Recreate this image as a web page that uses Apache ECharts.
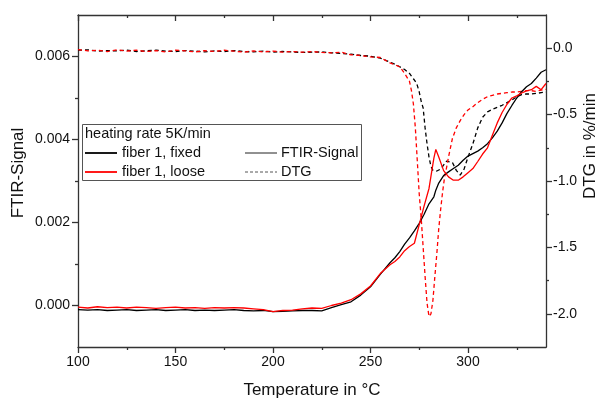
<!DOCTYPE html>
<html>
<head>
<meta charset="utf-8">
<script src="https://cdn.jsdelivr.net/npm/echarts@6/dist/echarts.min.js"></script>
<style>html,body{margin:0;padding:0;background:#fff}#c{width:599px;height:398px}</style>
</head>
<body>
<div id="c"></div>
<script>
// ---- data ----
const tempFTIR = [100,105,110,115,120,125,130,135,140,145,150,155,160,165,170,175,180,185,190,195,200,205,210,215,220,225,
  230,235,240,245,250,255,260,
  262.5,265,267.5,270,272.5,275,277.5,280,282.5,283.5,285,287.5,290,292.5,295,297.5,300,302.5,305,307.5,310,312.5,315,317.5,320,322.5,325,327.5,330,332.5,335,337.5,340];
const ftirFixed = [-0.00010,-0.00011,-0.00010,-0.00012,-0.00011,-0.00010,-0.00012,-0.00011,-0.00010,-0.00012,-0.00011,-0.00010,-0.00012,-0.00011,-0.00012,-0.00011,-0.00010,-0.00012,-0.00013,-0.00012,-0.00015,-0.00014,-0.00013,-0.00012,-0.00012,-0.00013,
  -0.00005,0.00002,0.00009,0.00025,0.00045,0.00075,0.00103,
  0.00115,0.00130,0.00148,0.00163,0.00180,0.00198,0.00220,0.00245,0.00262,0.00278,0.00295,0.00313,0.00322,0.00330,0.00338,0.00350,0.00360,0.00366,0.00372,0.00380,0.00390,0.00404,0.00420,0.00440,0.00463,0.00482,0.00500,0.00515,0.00527,0.00535,0.00548,0.00562,0.00568];
const ftirLoose = [-0.00004,-0.00006,-0.00003,-0.00005,-0.00004,-0.00006,-0.00004,-0.00005,-0.00007,-0.00005,-0.00004,-0.00006,-0.00005,-0.00007,-0.00005,-0.00006,-0.00005,-0.00006,-0.00008,-0.00010,-0.00015,-0.00012,-0.00011,-0.00008,-0.00006,-0.00007,
  0.00000,0.00006,0.00014,0.00028,0.00047,0.00077,0.00098,
  0.00106,0.00117,0.00132,0.00142,0.00150,0.00195,0.00240,0.00282,0.00355,0.00376,0.00358,0.00325,0.00310,0.00302,0.00302,0.00310,0.00320,0.00330,0.00347,0.00365,0.00380,0.00410,0.00440,0.00465,0.00485,0.00500,0.00505,0.00512,0.00517,0.00520,0.00528,0.00520,0.00535];

const tempDTG = [100,105,110,115,120,125,130,135,140,145,150,155,160,165,170,175,180,185,190,195,200,205,210,215,220,225,230,235,240,245,250,255,260,
  262.5,265,267.5,270,
  271,272,273,274,275,276,277,278,279,280,281,282,283,284,285,286,287,288,289,290,
  292,294,296,298,300,
  302.5,305,307.5,310,312.5,315,317.5,320,322.5,325,327.5,330,332.5,335,337.5,340];
const dtgLoose = [-0.010,-0.020,-0.015,-0.025,-0.012,-0.022,-0.015,-0.025,-0.018,-0.028,-0.015,-0.020,-0.028,-0.018,-0.025,-0.015,-0.022,-0.030,-0.020,-0.028,-0.022,-0.030,-0.025,-0.030,-0.025,-0.032,-0.035,-0.030,-0.050,-0.055,-0.065,-0.070,-0.110,
  -0.125,-0.140,-0.190,-0.250,
  -0.32,-0.42,-0.60,-0.85,-1.10,-1.28,-1.50,-1.72,-1.92,-2.02,-2.00,-1.90,-1.72,-1.55,-1.36,-1.21,-1.08,-0.97,-0.90,-0.82,
  -0.68,-0.60,-0.545,-0.50,-0.465,
  -0.44,-0.41,-0.385,-0.365,-0.355,-0.345,-0.34,-0.335,-0.33,-0.33,-0.325,-0.32,-0.32,-0.325,-0.315,-0.31];
const dtgFixed = [-0.015,-0.012,-0.022,-0.018,-0.020,-0.015,-0.025,-0.020,-0.015,-0.022,-0.025,-0.018,-0.022,-0.028,-0.020,-0.025,-0.018,-0.025,-0.028,-0.022,-0.030,-0.025,-0.028,-0.032,-0.030,-0.028,-0.035,-0.040,-0.045,-0.055,-0.060,-0.075,-0.105,
  -0.120,-0.140,-0.160,-0.190,
  -0.21,-0.23,-0.25,-0.28,-0.33,-0.40,-0.45,-0.60,-0.72,-0.82,-0.89,-0.92,-0.925,-0.925,-0.92,-0.91,-0.89,-0.87,-0.85,-0.84,
  -0.86,-0.92,-0.955,-0.91,-0.82,
  -0.72,-0.60,-0.52,-0.48,-0.46,-0.445,-0.43,-0.41,-0.39,-0.365,-0.35,-0.345,-0.345,-0.34,-0.335,-0.33];

const xMajor = [100,150,200,250,300];
const xMinor = [125,175,225,275,325];
const yLeftMajor = [0,0.002,0.004,0.006];
const yLeftMinor = [0.001,0.003,0.005];
const yRightMajor = [-2,-1.5,-1,-0.5,0];
const yRightMinor = [-1.75,-1.25,-0.75,-0.25];

const legendTitle = 'heating rate 5K/min';
const seriesNames = ['fiber 1, fixed','fiber 1, loose'];
const styleNames = ['FTIR-Signal','DTG'];

// ---- chart ----
const FONT = "'Liberation Sans', Arial, sans-serif";
const AX = '#333';
const chart = echarts.init(document.getElementById('c'), null, {renderer:'canvas'});
const X = {min:100, max:340};
const YL = {min:-0.001, max:0.007};
const YR = {min:-2.25, max:0.25};
function axisBase(extra){
  return Object.assign({
    type:'value', splitLine:{show:false}, nameMoveOverlap:false,
    axisLine:{show:true, onZero:false, lineStyle:{color:AX, width:1.3}},
    axisLabel:{show:false}, axisTick:{show:false}
  }, extra);
}
const tickStyle = {color:AX, width:1.3};
const lblStyle = {color:'#111', fontSize:14, fontFamily:FONT};
chart.setOption({
  animation:false,
  grid:{left:78, right:53, top:15, bottom:51, containLabel:false, outerBoundsMode:'none'},
  xAxis:[
    axisBase(Object.assign({}, X, {position:'bottom',
      axisTick:{show:true, inside:false, length:6, lineStyle:tickStyle, customValues:xMajor},
      axisLabel:Object.assign({show:true, margin:8, customValues:xMajor}, lblStyle),
      name:'Temperature in °C', nameLocation:'middle', nameGap:35,
      nameTextStyle:{fontSize:17, fontFamily:FONT, color:'#111'}})),
    axisBase(Object.assign({}, X, {position:'bottom', axisLine:{show:false, onZero:false},
      axisTick:{show:true, inside:false, length:3, lineStyle:tickStyle, customValues:xMinor}})),
    axisBase(Object.assign({}, X, {position:'top',
      axisTick:{show:true, inside:true, length:6, lineStyle:tickStyle, customValues:xMajor}})),
    axisBase(Object.assign({}, X, {position:'top', axisLine:{show:false, onZero:false},
      axisTick:{show:true, inside:true, length:3, lineStyle:tickStyle, customValues:xMinor}}))
  ],
  yAxis:[
    axisBase(Object.assign({}, YL, {position:'left',
      axisTick:{show:true, inside:false, length:6, lineStyle:tickStyle, customValues:yLeftMajor},
      axisLabel:Object.assign({show:true, margin:8, customValues:yLeftMajor, formatter:v=>v.toFixed(3)}, lblStyle),
      name:'FTIR-Signal', nameLocation:'middle', nameRotate:90, nameGap:51,
      nameTextStyle:{fontSize:17, fontFamily:FONT, color:'#111', padding:[0,0,0,16]}})),
    axisBase(Object.assign({}, YL, {position:'left', axisLine:{show:false, onZero:false},
      axisTick:{show:true, inside:false, length:3, lineStyle:tickStyle, customValues:yLeftMinor}})),
    axisBase(Object.assign({}, YR, {position:'right',
      axisTick:{show:true, inside:false, length:6, lineStyle:tickStyle, customValues:yRightMajor},
      axisLabel:Object.assign({show:true, margin:7, customValues:yRightMajor, formatter:v=>v.toFixed(1)}, lblStyle),
      name:'DTG in %/min', nameLocation:'middle', nameRotate:90, nameGap:36,
      nameTextStyle:{fontSize:17, fontFamily:FONT, color:'#111', padding:[0,0,0,70]}})),
    axisBase(Object.assign({}, YR, {position:'right', axisLine:{show:false, onZero:false},
      axisTick:{show:true, inside:false, length:3, lineStyle:tickStyle, customValues:yRightMinor}}))
  ],
  series:[
    {name:seriesNames[0]+' DTG', type:'line', xAxisIndex:0, yAxisIndex:2, showSymbol:false, symbol:'none',
      lineStyle:{color:'#000', width:1.3, type:[4,3]}, data:tempDTG.map((t,i)=>[t,dtgFixed[i]])},
    {name:seriesNames[1]+' DTG', type:'line', xAxisIndex:0, yAxisIndex:2, showSymbol:false, symbol:'none',
      lineStyle:{color:'#ff0000', width:1.3, type:[4,3]}, data:tempDTG.map((t,i)=>[t,dtgLoose[i]])},
    {name:seriesNames[0], type:'line', xAxisIndex:0, yAxisIndex:0, showSymbol:false, symbol:'none',
      lineStyle:{color:'#000', width:1.3}, data:tempFTIR.map((t,i)=>[t,ftirFixed[i]])},
    {name:seriesNames[1], type:'line', xAxisIndex:0, yAxisIndex:0, showSymbol:false, symbol:'none',
      lineStyle:{color:'#ff0000', width:1.3}, data:tempFTIR.map((t,i)=>[t,ftirLoose[i]])}
  ],
  graphic:[{
    type:'group', left:82, top:124, z:100,
    children:[
      {type:'rect', shape:{x:0.5,y:0.5,width:279,height:56}, style:{fill:'#fff', stroke:'#555', lineWidth:1}},
      {type:'text', x:3, y:10, style:{text:legendTitle, font:'14.5px '+FONT, fill:'#111', verticalAlign:'middle'}},
      {type:'line', shape:{x1:3,y1:29,x2:35,y2:29}, style:{stroke:'#000', lineWidth:1.8}},
      {type:'text', x:40, y:28.5, style:{text:seriesNames[0], font:'14.5px '+FONT, fill:'#111', verticalAlign:'middle'}},
      {type:'line', shape:{x1:3,y1:48,x2:35,y2:48}, style:{stroke:'#ff0000', lineWidth:1.8}},
      {type:'text', x:40, y:47.5, style:{text:seriesNames[1], font:'14.5px '+FONT, fill:'#111', verticalAlign:'middle'}},
      {type:'line', shape:{x1:163,y1:29,x2:195,y2:29}, style:{stroke:'#222', lineWidth:1}},
      {type:'text', x:199, y:28.5, style:{text:styleNames[0], font:'14.5px '+FONT, fill:'#111', verticalAlign:'middle'}},
      {type:'line', shape:{x1:163,y1:48,x2:195,y2:48}, style:{stroke:'#555', lineWidth:1, lineDash:[3,2]}},
      {type:'text', x:199, y:47.5, style:{text:styleNames[1], font:'14.5px '+FONT, fill:'#111', verticalAlign:'middle'}}
    ]
  }]
});
</script>
</body>
</html>
